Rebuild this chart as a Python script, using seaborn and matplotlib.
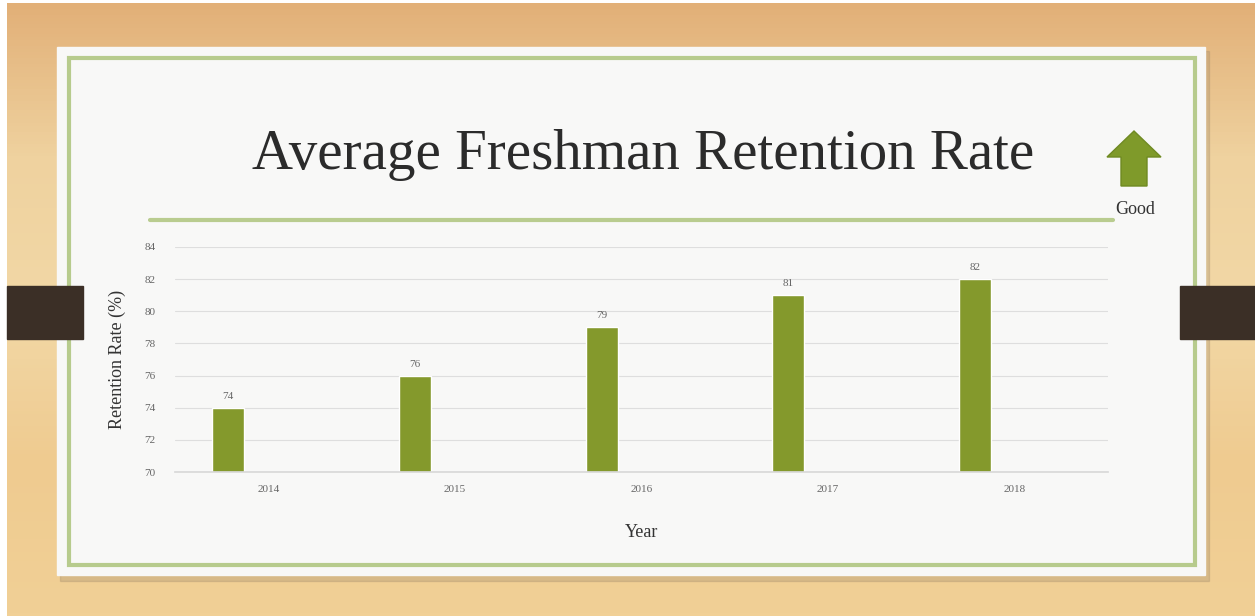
import numpy as np
import pandas as pd
import matplotlib.pyplot as plt
import matplotlib.patches as mpatches
import seaborn as sns

# chart values
years = ['2014', '2015', '2016', '2017', '2018']
retention = [74, 76, 79, 81, 82]

data = pd.DataFrame({'Year': years, 'Rate': retention})

sns.set_theme(style='white')
plt.rcParams['font.family'] = ['Liberation Serif', 'DejaVu Serif']

W, H = 1255, 616
fig = plt.figure(figsize=(W / 100, H / 100), dpi=100)

# background slide drawn in pixel coordinates
bg = fig.add_axes([0, 0, 1, 1], zorder=0)
bg.set_xlim(0, W)
bg.set_ylim(H, 0)
bg.axis('off')

# wood-ish gradient
grad = np.linspace(0, 1, 200).reshape(-1, 1)
wood = plt.matplotlib.colors.LinearSegmentedColormap.from_list(
    'wood', ['#e2b078', '#efd29f', '#f2d8a6', '#efcb90', '#f1d096'])
bg.imshow(grad, cmap=wood, extent=[7, W, H, 3], aspect='auto', zorder=0)

# shadow + card
bg.add_patch(mpatches.Rectangle((60, 51), 1149, 530, color='#a08a6a', alpha=0.3, zorder=1))
bg.add_patch(mpatches.Rectangle((57, 47), 1148, 528, color='#f8f8f7', zorder=2))
bg.add_patch(mpatches.Rectangle((69, 58), 1126, 507, fill=False, ec='#b7cb8d', lw=3, zorder=3))

# dark tabs
bg.add_patch(mpatches.Rectangle((7, 286), 76, 53, color='#3b2f26', zorder=4))
bg.add_patch(mpatches.Rectangle((1180, 286), 75, 53, color='#3b2f26', zorder=4))

# line under title
bg.plot([150, 1113], [220, 220], color='#b9cc8f', lw=3, zorder=4)

# arrow "Good"
bg.add_patch(mpatches.FancyArrow(1134, 186, 0, -55, width=26, head_width=54, head_length=26,
                                 length_includes_head=True, color='#7f9a2a', ec='#6f8a22', zorder=5))
bg.text(1135, 209, 'Good', ha='center', va='center', fontsize=13, color='#333333', zorder=5)

bg.text(643, 155, 'Average Freshman Retention Rate', ha='center', va='center',
        fontsize=41, color='#2b2b2b', zorder=5)

# bar chart
ax = fig.add_axes([175 / W, 1 - 472 / H, 933 / W, 225 / H], zorder=2)
ax.patch.set_alpha(0)
sns.barplot(data=data, x='Year', y='Rate', color='#84992c', saturation=1,
            width=0.171, order=years, ax=ax)

# bars sit left of the category centre (second series slot left empty)
for p in ax.patches:
    p.set_x(p.get_x() - 0.214)

ax.set_ylim(70, 84)
ax.set_yticks(range(70, 85, 2))
ax.grid(axis='y', color='#dedede', lw=0.8)
ax.set_axisbelow(True)
for s in ['top', 'right', 'left']:
    ax.spines[s].set_visible(False)
ax.spines['bottom'].set_color('#d9d9d9')
ax.tick_params(axis='both', length=0, labelsize=8, labelcolor='#666666')
ax.tick_params(axis='y', pad=14)
ax.tick_params(axis='x', pad=9)
ax.set_xlabel('Year', fontsize=13, color='#333333', labelpad=22)
ax.set_ylabel('Retention Rate (%)', fontsize=13, color='#333333', labelpad=13)

for c in ax.containers:
    ax.bar_label(c, fmt='%d', padding=5, fontsize=8, color='#666666')

fig.savefig('out.png', dpi=100)
